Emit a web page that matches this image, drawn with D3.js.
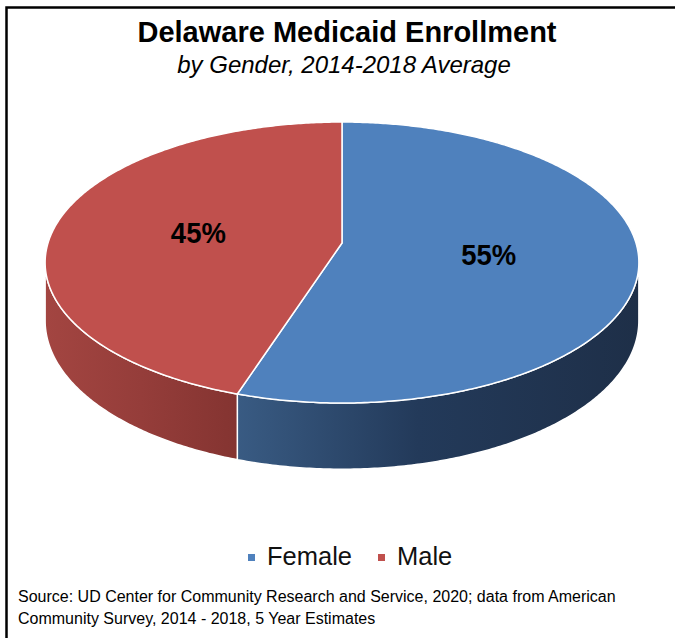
<!DOCTYPE html>
<html>
<head>
<meta charset="utf-8">
<script src="https://cdn.jsdelivr.net/npm/d3@7"></script>
<style>
  body { margin: 0; background: #fff; }
  text { font-family: "Liberation Sans", Arial, sans-serif; }
</style>
</head>
<body>
<script>
(function(){

//chart data
var categories = ["Female", "Male"];
var shares = [55, 45];
var labels = ["55%", "45%"];
var topColors = ["#4F81BD", "#C0504D"];
//side shading, listed left -> right
var sideColors = [["#395b83", "#233a5a", "#1e2f48"], ["#a34541", "#953d3a", "#843431"]];

var titleText = "Delaware Medicaid Enrollment";
var subtitleText = "by Gender, 2014-2018 Average";
var sourceLines = ["Source: UD Center for Community Research and Service, 2020; data from American",
                   "Community Survey, 2014 - 2018, 5 Year Estimates"];

window.onload = drawChart();

function drawChart(){

    var width = 675,
        height = 638;

    var svg = d3.select("body")
        .append("svg")
        .attr("width", width)
        .attr("height", height);

    //frame (top and left edges only show in the picture)
    svg.append("path")
        .attr("d", "M6.5,638 V7.5 H675")
        .attr("fill", "none")
        .attr("stroke", "#000")
        .attr("stroke-width", 2.5);

    svg.append("text")
        .attr("x", 347).attr("y", 42)
        .attr("text-anchor", "middle")
        .style("font-size", "29px")
        .style("font-weight", "bold")
        .text(titleText);

    svg.append("text")
        .attr("x", 344).attr("y", 73)
        .attr("text-anchor", "middle")
        .style("font-size", "24px")
        .style("font-style", "italic")
        .text(subtitleText);

    //perspective pie: unit circle (u,v) -> screen through a homography
    var cx = 342, cy = 243, K = 294, A = 104, C = -0.139, depth = 57;

    function proj(theta, r, z){
        var u = r * Math.sin(theta),
            v = -r * Math.cos(theta),
            den = 1 + C * v;
        return [cx + K * u / den, (A * v + cy) / den + z * depth / den];
    }

    function arcPoints(a0, a1, z){
        var n = Math.max(2, Math.ceil(Math.abs(a1 - a0) / 0.01));
        return d3.range(n + 1).map(function(i){
            return proj(a0 + (a1 - a0) * i / n, 1, z);
        });
    }

    var pie = d3.pie().sort(null).value(function(d){ return d; });
    var arcs = pie(shares);

    //visible part of the side wall
    var sVis = Math.acos(C), eVis = 2 * Math.PI - sVis;

    var defs = svg.append("defs");
    var line = d3.line();

    var sides = svg.append("g");
    arcs.forEach(function(d, i){
        var a0 = Math.max(d.startAngle, sVis),
            a1 = Math.min(d.endAngle, eVis);
        if (a1 <= a0) return;
        var top = arcPoints(a0, a1, 0),
            bottom = arcPoints(a1, a0, 1),
            xs = top.map(function(p){ return p[0]; });
        var grad = defs.append("linearGradient")
            .attr("id", "side" + i)
            .attr("gradientUnits", "userSpaceOnUse")
            .attr("x1", d3.min(xs)).attr("x2", d3.max(xs))
            .attr("y1", 0).attr("y2", 0);
        var offsets = i === 0 ? [0, 0.45, 1] : [0, 0.5, 1];
        sideColors[i].forEach(function(c, j){
            grad.append("stop")
                .attr("offset", offsets[j])
                .attr("stop-color", c);
        });
        sides.append("path")
            .attr("class", "side " + categories[i])
            .attr("d", line(top.concat(bottom)) + "Z")
            .attr("fill", "url(#side" + i + ")")
            .attr("stroke", "#fff")
            .attr("stroke-width", 1.5)
            .attr("stroke-linejoin", "round");
    });

    var tops = svg.append("g");
    arcs.forEach(function(d, i){
        var pts = [proj(0, 0, 0)].concat(arcPoints(d.startAngle, d.endAngle, 0));
        tops.append("path")
            .attr("class", "top " + categories[i])
            .attr("d", line(pts) + "Z")
            .attr("fill", topColors[i])
            .attr("stroke", "#fff")
            .attr("stroke-width", 1.5)
            .attr("stroke-linejoin", "round");
    });

    //data labels at half radius of each slice
    arcs.forEach(function(d, i){
        var mid = (d.startAngle + d.endAngle) / 2,
            p = proj(mid, 0.5, 0);
        svg.append("text")
            .attr("x", p[0]).attr("y", p[1] + 11)
            .attr("text-anchor", "middle")
            .attr("textLength", 55)
            .attr("lengthAdjust", "spacingAndGlyphs")
            .style("font-size", "29px")
            .style("font-weight", "bold")
            .text(labels[i]);
    });

    //legend
    var legendX = [248, 378];
    var legend = svg.append("g");
    categories.forEach(function(c, i){
        legend.append("rect")
            .attr("x", legendX[i]).attr("y", 554)
            .attr("width", 7).attr("height", 7)
            .attr("fill", topColors[i]);
        legend.append("text")
            .attr("x", legendX[i] + 19).attr("y", 565)
            .style("font-size", "25.5px")
            .style("fill", "#111")
            .text(c);
    });

    //source note
    svg.selectAll(".source")
        .data(sourceLines)
        .enter()
        .append("text")
        .attr("class", "source")
        .attr("x", 18)
        .attr("y", function(d, i){ return 602 + i * 22; })
        .style("font-size", "16px")
        .text(function(d){ return d; });
};

})();
</script>
</body>
</html>
